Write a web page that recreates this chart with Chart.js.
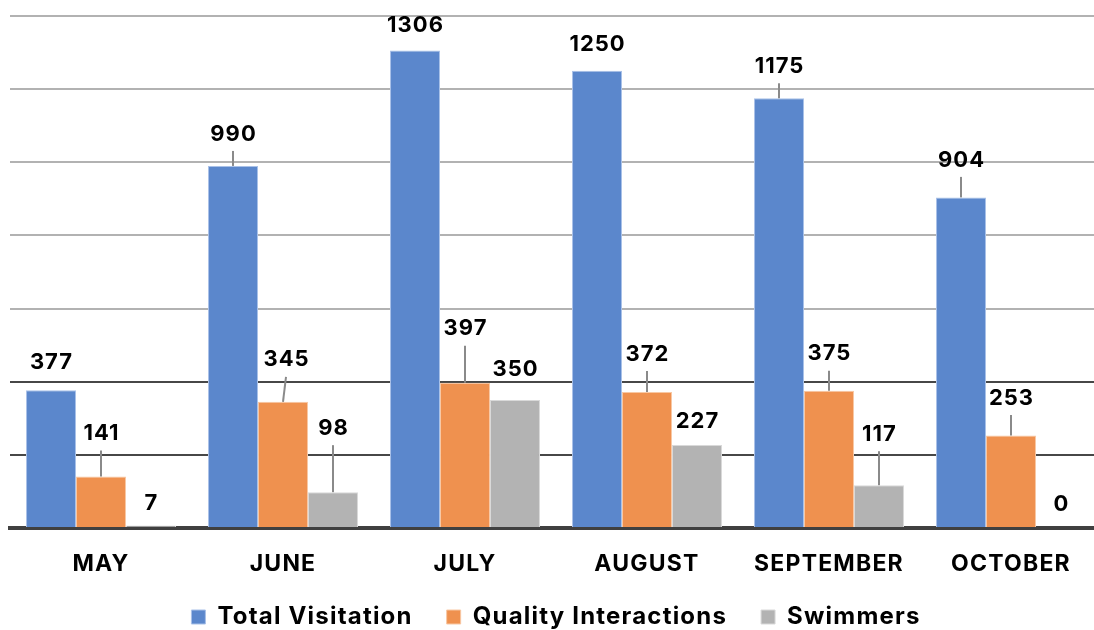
<!DOCTYPE html>
<html><head><meta charset="utf-8">
<script src="https://cdn.jsdelivr.net/npm/chart.js@4/dist/chart.umd.min.js"></script>
<style>html,body{margin:0;padding:0;background:#fff;overflow:hidden}#wrap{position:absolute;left:0;top:0;width:1102px;height:630px}</style>
</head><body><div id="wrap"><canvas id="c" width="1102" height="630"></canvas></div>
<script>
const categories = ['MAY', 'JUNE', 'JULY', 'AUGUST', 'SEPTEMBER', 'OCTOBER'];
const seriesNames = ['Total Visitation', 'Quality Interactions', 'Swimmers'];
const totalVisitation = [377, 990, 1306, 1250, 1175, 904];
const qualityInteractions = [141, 345, 397, 372, 375, 253];
const swimmers = [7, 98, 350, 227, 117, 0];
const yTicks = [0, 200, 400, 600, 800, 1000, 1200, 1400];

// label placement (pixels above bar top), leader flags — styling only
const labelGap = [
  [29, 33, 26, 27, 33, 38.5],
  [44, 43, 55, 39, 38, 38.5],
  [23, 65, 32, 25, 52, 24.5]
];
const labelDx = [
  [0, 0, 0, 0, 0, 0],
  [0, 3, 0, 0, 0, 0],
  [0, 0, 0, 0, 0, 0]
];
const leader = [
  [0, 1, 0, 0, 1, 1],
  [1, 1, 1, 1, 1, 1],
  [0, 1, 0, 0, 1, 0]
];

const labelPlugin = {
  id: 'calloutLabels',
  afterDraw(chart) {
    const ctx = chart.ctx;
    ctx.save();
    ctx.font = '700 22px Inter, "DejaVu Sans", sans-serif';
    try { ctx.letterSpacing = '1px'; } catch (e) {}
    ctx.textAlign = 'center';
    ctx.textBaseline = 'middle';
    chart.data.datasets.forEach((ds, di) => {
      const meta = chart.getDatasetMeta(di);
      meta.data.forEach((bar, i) => {
        const v = ds.data[i];
        const top = bar.y;
        const cy = top - labelGap[di][i];
        const cx = bar.x + labelDx[di][i];
        if (leader[di][i]) {
          ctx.strokeStyle = '#8a8a8a';
          ctx.lineWidth = 2;
          ctx.beginPath();
          ctx.moveTo(cx, cy + 18);
          ctx.lineTo(bar.x, top);
          ctx.stroke();
        }
        ctx.fillStyle = '#000';
        ctx.fillText(String(v), cx + 0.5, cy + 1);
      });
    });
    ctx.restore();
  }
};

// slightly wider text tracking for axis and legend text
const tracking = {
  id: 'tracking',
  beforeLayout(chart) { try { chart.ctx.letterSpacing = '1.2px'; } catch (e) {} },
  beforeDraw(chart) { try { chart.ctx.letterSpacing = '1.2px'; } catch (e) {} }
};

// moves the legend row to its baseline position without changing the plot area
const legendNudge = {
  id: 'legendNudge',
  afterLayout(chart) {
    const l = chart.legend;
    if (!l) return;
    const p = l.options.labels.padding;
    l.top = 617 - p - 12;
    l.bottom = chart.height;
  }
};

new Chart(document.getElementById('c'), {
  type: 'bar',
  data: {
    labels: categories,
    datasets: [
      { label: seriesNames[0], data: totalVisitation, backgroundColor: '#5B87CC', borderColor: '#A9C1E8', borderWidth: 1 },
      { label: seriesNames[1], data: qualityInteractions, backgroundColor: '#EF914F', borderColor: '#F8C8A4', borderWidth: 1 },
      { label: seriesNames[2], data: swimmers, backgroundColor: '#B3B3B3', borderColor: '#D9D9D9', borderWidth: 1 }
    ]
  },
  options: {
    responsive: false,
    animation: false,
    devicePixelRatio: 1,
    layout: { padding: { left: 10, right: 0, top: 16, bottom: 0 } },
    datasets: { bar: { categoryPercentage: 0.824, barPercentage: 1.0 } },
    plugins: {
      tooltip: { enabled: false },
      legend: {
        position: 'bottom',
        maxHeight: 50,
        labels: {
          boxWidth: 14, boxHeight: 14, padding: 34,
          color: '#000',
          font: { family: 'Inter, sans-serif', size: 24, weight: 'bold' }
        }
      }
    },
    scales: {
      x: {
        grid: { display: false, drawTicks: false },
        border: { display: true, color: '#404040', width: 4 },
        ticks: { color: '#000', padding: 22, font: { family: 'Inter, sans-serif', size: 23, weight: 'bold' } },
        afterFit: s => { s.height = 52; }
      },
      y: {
        min: 0, max: 1400,
        z: 1,
        afterBuildTicks: s => { s.ticks = yTicks.map(v => ({ value: v })); },
        ticks: { display: false },
        border: { display: false },
        grid: {
          drawTicks: false,
          lineWidth: 2,
          color: c => {
            const v = c.tick ? c.tick.value : 0;
            if (v === 0) return 'rgba(0,0,0,0)';
            if (v === 200 || v === 400) return 'rgba(0,0,0,0.72)';
            return 'rgba(0,0,0,0.3)';
          }
        },
        afterFit: s => { s.width = 0; }
      }
    }
  },
  plugins: [tracking, labelPlugin, legendNudge]
});
</script>
</body></html>
